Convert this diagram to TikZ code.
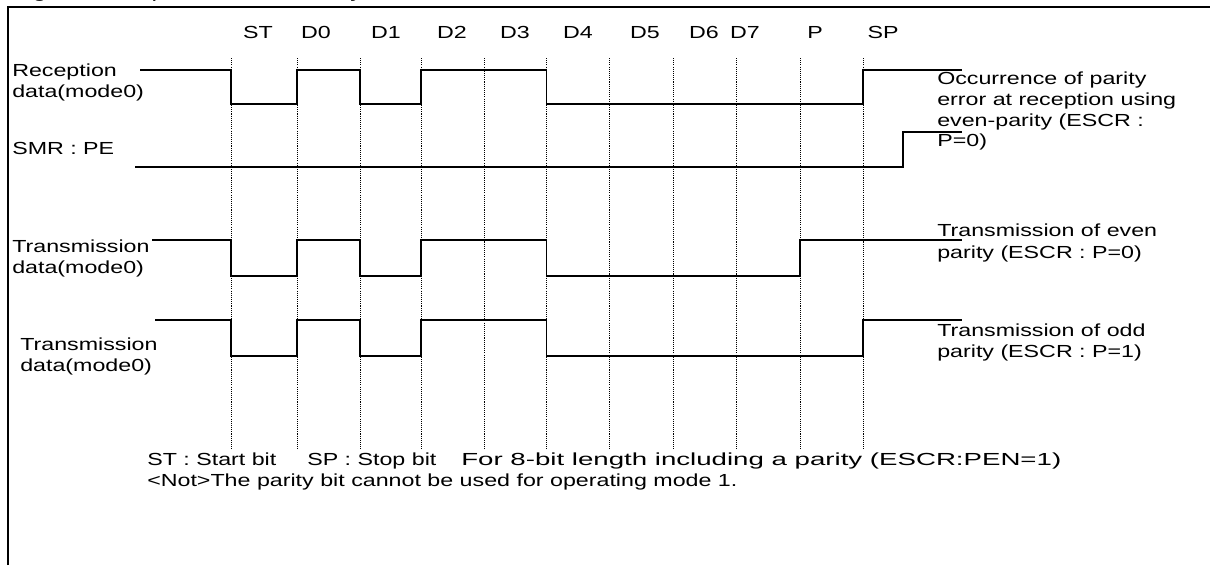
\documentclass[tikz,border=0pt]{standalone}
\usepackage{fontspec}
\setmainfont{Liberation Sans}[FakeStretch=1.33]
\begin{document}
\begin{tikzpicture}[x=0.75pt,y=-0.75pt,
  txt/.style={font=\fontsize{13.1pt}{15.75pt}\selectfont, inner sep=0pt, anchor=base west},
  col/.style={font=\fontsize{13.1pt}{15.75pt}\selectfont, inner sep=0pt, anchor=base},
  ttl/.style={font=\fontsize{14pt}{16pt}\selectfont, inner sep=0pt, anchor=base west},
  sig/.style={line width=1.3pt, line join=miter},
  gridline/.style={line width=0.5pt, dash pattern=on 0.8pt off 0.8pt},
  frameline/.style={line width=2pt}]
\useasboundingbox (0,0) rectangle (1210,565);
% title, cut off by the top edge as in the reference
\begin{scope}
  \clip (0,0) rectangle (1210,5);
  \node[ttl] (title) at (12,-3) {Figure 3-3 Operation with Parity Enabled};
\end{scope}
% frame
\draw[frameline] (8,565) -- (8,7) -- (1210,7);
% dotted bit boundaries
\foreach \x/\n in {231/0,297/1,360/2,421/3,484/4,546.5/5,609/6,673/7,736/8,800/9,863/10}{
  \coordinate (t\n) at (\x,58);
  \coordinate (b\n) at (\x,450);
  \draw[gridline] (t\n) -- (b\n);
}
% column labels
\node[col] (lST) at (258,38) {ST};
\node[col] (lD0) at (316,38) {D0};
\node[col] (lD1) at (386,38) {D1};
\node[col] (lD2) at (452,38) {D2};
\node[col] (lD3) at (515,38) {D3};
\node[col] (lD4) at (578,38) {D4};
\node[col] (lD5) at (645,38) {D5};
\node[col] (lD6) at (704,38) {D6};
\node[col] (lD7) at (745,38) {D7};
\node[col] (lP)  at (815,38) {P};
\node[col] (lSP) at (883,38) {SP};
% left labels
\node[txt] (r1a) at (12,76) {Reception};
\node[txt] (r1b) at (12,97) {data(mode0)};
\node[txt] (r2a) at (12,154) {SMR : PE};
\node[txt] (r3a) at (12,252) {Transmission};
\node[txt] (r3b) at (12,273) {data(mode0)};
\node[txt] (r4a) at (20,350) {Transmission};
\node[txt] (r4b) at (20,371) {data(mode0)};
% right labels
\node[txt] (n1a) at (937,84) {Occurrence of parity};
\node[txt] (n1b) at (937,105) {error at reception using};
\node[txt] (n1c) at (937,126) {even-parity (ESCR :};
\node[txt] (n1d) at (937,146) {P=0)};
\node[txt] (n3a) at (937,236) {Transmission of even};
\node[txt] (n3b) at (937,258) {parity (ESCR : P=0)};
\node[txt] (n4a) at (937,336) {Transmission of odd};
\node[txt] (n4b) at (937,357) {parity (ESCR : P=1)};
% bottom notes
\node[txt] (s1) at (147,465) {ST : Start bit};
\node[txt] (s2) at (307,465) {SP : Stop bit};
\node[txt, xscale=1.19] (s3) at (461,465) {For 8-bit length including a parity (ESCR:PEN=1)};
\node[txt] (s4) at (147,486) {<Not>The parity bit cannot be used for operating mode 1.};
% waveforms
\draw[sig] (140,70) -- (231,70) -- (231,104) -- (297,104) -- (297,70) -- (360,70)
  -- (360,104) -- (421,104) -- (421,70) -- (546.5,70) -- (546.5,104) -- (863,104)
  -- (863,70) -- (962,70);
\draw[sig] (135,167) -- (903,167) -- (903,132) -- (962,132);
\draw[sig] (152,240) -- (231,240) -- (231,276) -- (297,276) -- (297,240) -- (360,240)
  -- (360,276) -- (421,276) -- (421,240) -- (546.5,240) -- (546.5,276) -- (800,276)
  -- (800,240) -- (962,240);
\draw[sig] (155,320) -- (231,320) -- (231,356) -- (297,356) -- (297,320) -- (360,320)
  -- (360,356) -- (421,356) -- (421,320) -- (546.5,320) -- (546.5,356) -- (863,356)
  -- (863,320) -- (962,320);
\end{tikzpicture}
\end{document}
